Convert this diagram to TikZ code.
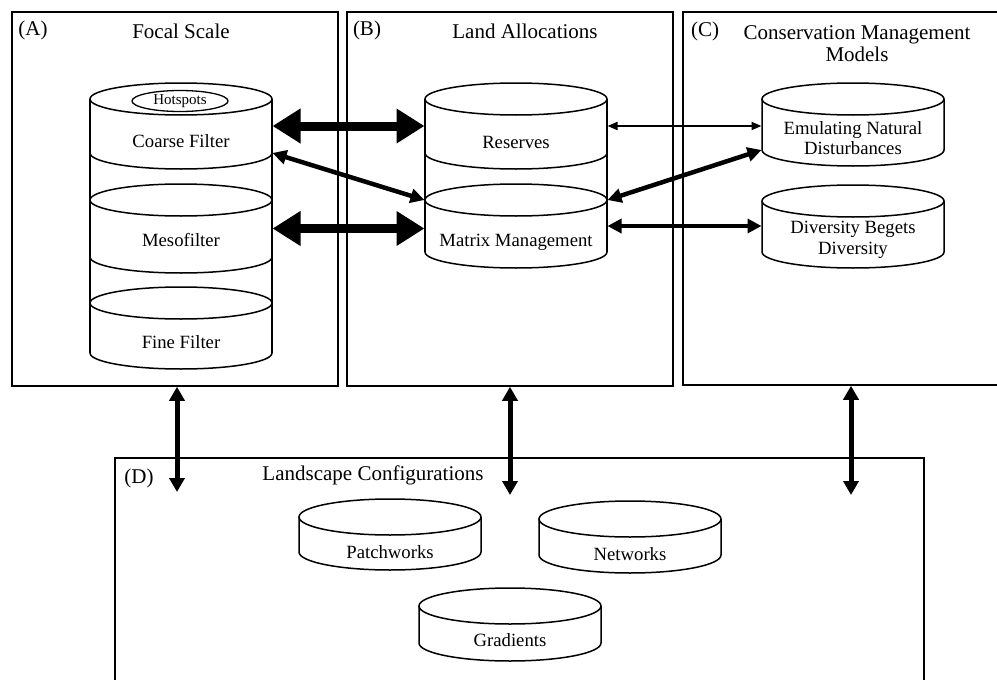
\documentclass[tikz,border=0pt]{standalone}
\usepackage{fontspec}
\setmainfont{Liberation Serif}
\usetikzlibrary{arrows.meta,shapes.geometric}

\tikzset{
  panel/.style={draw, line width=1.5pt, inner sep=0pt},
  cyl/.style={line width=1.5pt},
  secbox/.style={inner sep=0pt, outer sep=0pt, minimum width=183pt},
  lbl/.style={font=\fontsize{18.7}{20.5}\selectfont, align=center, inner sep=0pt},
  ttl/.style={font=\fontsize{21}{22}\selectfont, align=center, inner sep=0pt},
  hot/.style={draw, ellipse, line width=1.3pt, minimum width=96pt, minimum height=21pt, inner sep=0pt, font=\fontsize{15}{15}\selectfont},
  bigarr/.style={{Triangle[length=28pt,width=33pt]}-{Triangle[length=28pt,width=33pt]}, line width=9pt},
  medarr/.style={{Triangle[length=14pt,width=14pt]}-{Triangle[length=14pt,width=14pt]}, line width=4.5pt},
  thinarr/.style={{Triangle[length=10pt,width=8pt]}-{Triangle[length=10pt,width=8pt]}, line width=2pt},
  varr/.style={{Triangle[length=14pt,width=15pt]}-{Triangle[length=14pt,width=15pt]}, line width=5pt}
}

% name, centre x, top y, bottom y, y radius
\newcommand{\disk}[5]{%
  \draw[cyl] (#2,#3) ellipse [x radius=91pt, y radius=#5pt];
  \draw[cyl] (#2-91,#3) -- (#2-91,#4)
    arc [start angle=180, end angle=360, x radius=91pt, y radius=#5pt]
    -- (#2+91,#3);
  \node[secbox, minimum height={(#4-#3)*1pt}] (#1) at (#2,{(#3+#4)/2}) {};
}
% stack sides: top node, bottom node, centre x
\newcommand{\stackside}[3]{%
  \draw[cyl] (#3-91,0 |- #1.north) -- (#3-91,0 |- #2.south);
  \draw[cyl] (#3+91,0 |- #1.north) -- (#3+91,0 |- #2.south);
}

\begin{document}
\begin{tikzpicture}[x=1pt, y=-1pt]
  \useasboundingbox (0,0) rectangle (997,680);
  \clip (0,0) rectangle (997,680);

  \node[panel, minimum width=326pt, minimum height=374pt] (pA) at (175,199) {};
  \node[panel, minimum width=326pt, minimum height=374pt] (pB) at (510,199) {};
  \node[panel, minimum width=336pt, minimum height=373pt] (pC) at (851,198.5) {};
  \node[panel, minimum width=809pt, minimum height=242pt] (pD) at (519.5,579) {};

  \node[ttl] (labA) at (33,30) {(A)};
  \node[ttl] (labB) at (367,30) {(B)};
  \node[ttl] (labC) at (705,31) {(C)};
  \node[ttl] (labD) at (139,478) {(D)};
  \node[ttl] (tA) at (181,31) {Focal Scale};
  \node[ttl] (tB) at (525,31) {Land Allocations};
  \node[ttl] (tC) at (857,44) {Conservation Management\\Models};
  \node[ttl] (tD) at (373,475) {Landscape Configurations};

  \disk{coarse}{181}{99}{153}{16}
  \disk{meso}{181}{200}{257}{16}
  \disk{fine}{181}{303}{353}{16}
  \stackside{coarse}{fine}{181}
  \node[hot] (hotspots) at (180,101) {Hotspots};
  \node[lbl] (coarseT) at (181,141) {Coarse Filter};
  \node[lbl] (mesoT) at (181,240) {Mesofilter};
  \node[lbl] (fineT) at (181,342) {Fine Filter};

  \disk{reserves}{516}{99}{153}{16}
  \disk{matrix}{516}{200}{252}{16}
  \stackside{reserves}{matrix}{516}
  \node[lbl] (reservesT) at (516,142) {Reserves};
  \node[lbl] (matrixT) at (516,242) {Matrix Management};

  \disk{emul}{853}{99}{150}{16}
  \disk{divers}{853}{201}{252}{16}
  \node[lbl] (emulT) at (853,138) {Emulating Natural\\Disturbances};
  \node[lbl] (diversT) at (853,240) {Diversity Begets\\Diversity};

  \disk{patch}{390}{517}{552}{18}
  \disk{netw}{630}{519}{555}{18}
  \disk{grad}{510}{606}{643}{18}
  \node[lbl] (patchT) at (390,552) {Patchworks};
  \node[lbl] (netwT) at (630,554) {Networks};
  \node[lbl] (gradT) at (510,640) {Gradients};

  \draw[bigarr] (coarse.east) -- (reserves.west);
  \draw[bigarr] (meso.east) -- (meso.east -| matrix.west);
  \draw[medarr] (coarse.south east) -- (matrix.north west);
  \draw[thinarr] (reserves.east) -- (reserves.east -| emul.west);
  \draw[medarr] (matrix.north east) -- (emul.south west);
  \draw[medarr] (matrix.east) -- (matrix.east -| divers.west);

  \coordinate (tipA) at (177,492);
  \coordinate (tipB) at (510,495);
  \coordinate (tipC) at (851,495);
  \draw[varr] (tipA |- pA.south) -- (tipA);
  \draw[varr] (tipB |- pB.south) -- (tipB);
  \draw[varr] (tipC |- pC.south) -- (tipC);
\end{tikzpicture}
\end{document}
